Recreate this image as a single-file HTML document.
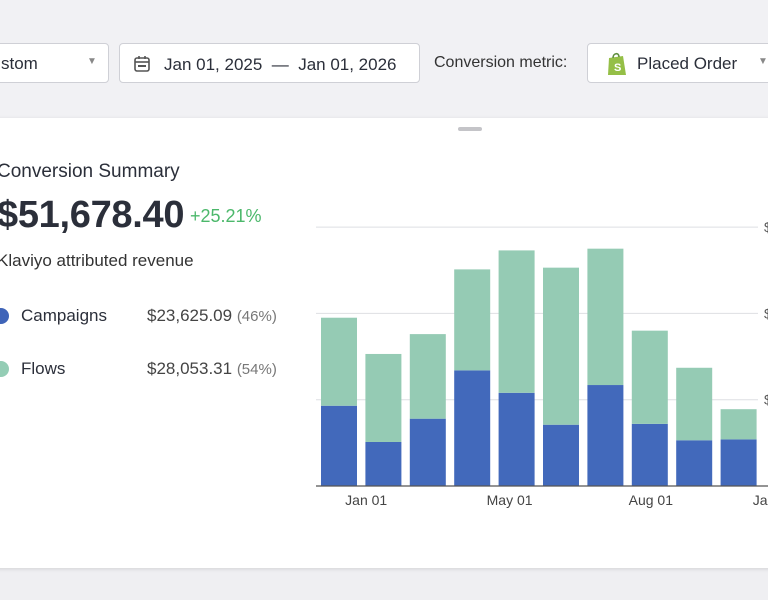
<!DOCTYPE html>
<html><head><meta charset="utf-8"><style>
html,body{margin:0;padding:0;width:768px;height:600px;overflow:hidden;background:#efeff2;font-family:"Liberation Sans",sans-serif;color:#2b2f3a}
.abs{position:absolute}
.box{position:absolute;background:#fff;border:1px solid #cfd0d6;border-radius:4px;box-sizing:border-box}
</style></head><body>
<div class="abs" style="left:0;top:0;width:768px;height:118px;background:#f1f1f4"></div>
<div class="box" style="left:-10px;top:43px;width:119px;height:40px">
 <span class="abs" style="left:10px;top:10px;font-size:17px;color:#2b2f3a">stom</span>
 <span class="abs" style="left:96px;top:12px;font-size:10px;color:#888">▼</span>
</div>
<div class="box" style="left:119px;top:43px;width:301px;height:40px">
 <svg class="abs" style="left:13px;top:11px" width="18" height="18"><rect x="2" y="3" width="14" height="13" rx="2" fill="none" stroke="#555" stroke-width="1.6"/><line x1="2" y1="7" x2="16" y2="7" stroke="#555" stroke-width="1.6"/><line x1="6" y1="1" x2="6" y2="4" stroke="#555" stroke-width="1.6"/><line x1="12" y1="1" x2="12" y2="4" stroke="#555" stroke-width="1.6"/><rect x="5" y="10" width="8" height="2" fill="#555"/></svg>
 <span class="abs" style="left:44px;top:11px;font-size:17px;white-space:nowrap">Jan 01, 2025 &nbsp;— &nbsp;Jan 01, 2026</span>
</div>
<span class="abs" style="left:434px;top:54px;font-size:16px;color:#333">Conversion metric:</span>
<div class="box" style="left:587px;top:43px;width:200px;height:40px">
 <svg class="abs" style="left:17px;top:7px" width="24" height="26"><path d="M4 7 L18 5 L21 24 L3 24 Z" fill="#95bf47"/><path d="M8 7 C8 2 14 1 14 6" fill="none" stroke="#5e8e3e" stroke-width="1.6"/><text x="9" y="20" font-size="11" font-weight="bold" fill="#fff" font-family="Liberation Sans">S</text></svg>
 <span class="abs" style="left:49px;top:10px;font-size:17px">Placed Order</span>
 <span class="abs" style="left:170px;top:12px;font-size:10px;color:#888">▼</span>
</div>
<div class="abs" style="left:-10px;top:118px;width:790px;height:450px;background:#fff;box-shadow:0 1px 4px rgba(0,0,0,.12)"></div>
<div class="abs" style="left:458px;top:127px;width:24px;height:4px;border-radius:2px;background:#c4c4c8"></div>
<div class="abs" style="left:-3px;top:161px;font-size:19px;color:#2b2f3a">Conversion Summary</div>
<div class="abs" style="left:-3px;top:194px;font-size:38px;font-weight:bold;color:#2b2f3a;letter-spacing:-0.3px">$51,678.40</div>
<div class="abs" style="left:190px;top:206px;font-size:18px;color:#4cb86b">+25.21%</div>
<div class="abs" style="left:-3px;top:251px;font-size:17px;color:#333">Klaviyo attributed revenue</div>
<div class="abs" style="left:-7px;top:308px;width:16px;height:16px;border-radius:50%;background:#3f64b8"></div>
<div class="abs" style="left:21px;top:306px;font-size:17px">Campaigns</div>
<div class="abs" style="left:147px;top:306px;font-size:17px;color:#444">$23,625.09 <span style="font-size:15px;color:#777">(46%)</span></div>
<div class="abs" style="left:-7px;top:361px;width:16px;height:16px;border-radius:50%;background:#94cdb5"></div>
<div class="abs" style="left:21px;top:359px;font-size:17px">Flows</div>
<div class="abs" style="left:147px;top:359px;font-size:17px;color:#444">$28,053.31 <span style="font-size:15px;color:#777">(54%)</span></div>
<svg id="chart" class="abs" style="left:0;top:0" width="768" height="600"></svg>
<script>
const campaigns=[0.93,0.51,0.78,1.34,1.08,0.71,1.17,0.72,0.53,0.54];
const flows=[1.02,1.02,0.98,1.17,1.65,1.82,1.58,1.08,0.84,0.35];
const yTicks=[1,2,3];
const xLabels=["Jan 01","May 01","Aug 01","Jan 01"];
const xLabelPos=[0.59,3.82,7.0,9.77];
const svg=document.getElementById('chart');
const NS='http://www.w3.org/2000/svg';
const base=486,unit=86.3,x0=318,step=44.4,bw=36;
const y=v=>base-v*unit;
const x=i=>x0+step*i;
function mk(t,a){const e=document.createElementNS(NS,t);for(const k in a)e.setAttribute(k,a[k]);svg.appendChild(e);return e;}
yTicks.forEach((t,i)=>{const l=mk('line',{x1:316,x2:758,y1:y(t),y2:y(t),stroke:'#dedfe3','stroke-width':1});


const tx=mk('text',{x:764,y:y(t)+5,'font-size':14,fill:'#555','font-family':'Liberation Sans'});tx.textContent='$';

});
campaigns.forEach((c,i)=>{const f=flows[i];
const b=mk('rect',{x:x(i)+3,y:y(c),width:bw,height:c*unit,fill:'#4269bb'});


const g=mk('rect',{x:x(i)+3,y:y(c+f),width:bw,height:f*unit,fill:'#95cbb4'});

});
const ax=mk('line',{x1:316,x2:768,y1:base,y2:base,stroke:'#555','stroke-width':1.2});


xLabels.forEach((t,i)=>{const tx=mk('text',{x:x(xLabelPos[i])+22,y:505,'font-size':14,fill:'#444','text-anchor':'middle','font-family':'Liberation Sans'});tx.textContent=t;

});
</script>
</body></html>
